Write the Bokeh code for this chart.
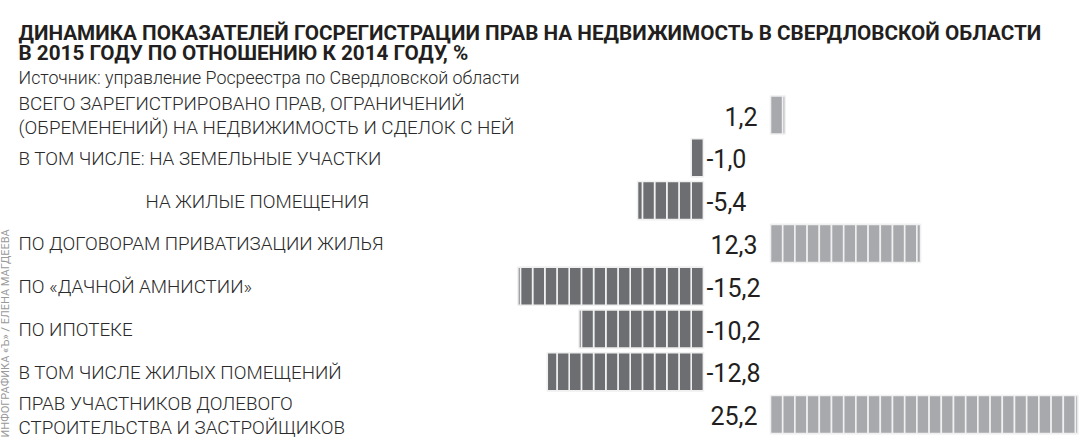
import math
from bokeh.plotting import figure
from bokeh.models import Range1d, Label, ColumnDataSource
from bokeh.core.properties import value
from bokeh.embed import file_html
from bokeh.resources import INLINE

# ---------------- data ----------------
title_lines = [
    "ДИНАМИКА ПОКАЗАТЕЛЕЙ ГОСРЕГИСТРАЦИИ ПРАВ НА НЕДВИЖИМОСТЬ В СВЕРДЛОВСКОЙ ОБЛАСТИ",
    "В 2015 ГОДУ ПО ОТНОШЕНИЮ К 2014 ГОДУ, %",
]
source_text = "Источник:  управление Росреестра по Свердловской области"
credit_text = "ИНФОГРАФИКА «Ъ» / ЕЛЕНА МАГДЕЕВА"

categories = [
    "ВСЕГО ЗАРЕГИСТРИРОВАНО ПРАВ, ОГРАНИЧЕНИЙ\n(ОБРЕМЕНЕНИЙ) НА НЕДВИЖИМОСТЬ И СДЕЛОК С НЕЙ",
    "В ТОМ ЧИСЛЕ: НА ЗЕМЕЛЬНЫЕ УЧАСТКИ",
    "НА ЖИЛЫЕ ПОМЕЩЕНИЯ",
    "ПО ДОГОВОРАМ ПРИВАТИЗАЦИИ ЖИЛЬЯ",
    "ПО «ДАЧНОЙ АМНИСТИИ»",
    "ПО ИПОТЕКЕ",
    "В ТОМ ЧИСЛЕ ЖИЛЫХ ПОМЕЩЕНИЙ",
    "ПРАВ УЧАСТНИКОВ ДОЛЕВОГО\nСТРОИТЕЛЬСТВА И ЗАСТРОЙЩИКОВ",
]
values = [1.2, -1.0, -5.4, 12.3, -15.2, -10.2, -12.8, 25.2]

# ---------------- style / layout ----------------
W, H = 1081, 441
PX = 12.2                 # pixels per percentage point
ZERO_PX = 770             # screen x of positive zero
NEG_ZERO = -5.5           # zero of negative bars (gap for labels)
ROW_PX = 42.8
ROW0_PX = 114.5
BAR_H = 0.89
POS_COLOR = "#a7a9ac"
NEG_COLOR = "#6d6e71"
TEXT_COLOR = "#231f20"
LABEL_COLOR = "#2a2a2a"
FONT = "Roboto"
LIGHT_FONT = "Roboto Light, Roboto"

x0 = -ZERO_PX / PX
x1 = (W - ZERO_PX) / PX
y_top = -ROW0_PX / ROW_PX
y_bot = (H - ROW0_PX) / ROW_PX

p = figure(width=W, height=H, output_backend="svg", toolbar_location=None,
           x_range=Range1d(x0, x1), y_range=Range1d(y_bot, y_top),
           min_border=0, outline_line_color=None, background_fill_color="white")
p.axis.visible = False
p.grid.visible = False

# ---------------- segmented bars ----------------
seg = dict(left=[], right=[], top=[], bottom=[], color=[])
for i, v in enumerate(values):
    z = 0.0 if v >= 0 else NEG_ZERO
    d = 1 if v >= 0 else -1
    a = abs(v)
    for k in range(math.ceil(a - 1e-9)):
        e0 = z + d * k
        e1 = z + d * min(k + 1, a)
        seg["left"].append(min(e0, e1))
        seg["right"].append(max(e0, e1))
        seg["top"].append(i - BAR_H / 2)
        seg["bottom"].append(i + BAR_H / 2)
        seg["color"].append(POS_COLOR if v >= 0 else NEG_COLOR)
p.quad(left="left", right="right", top="top", bottom="bottom", source=ColumnDataSource(seg),
       fill_color="color", line_color="#f0f0f0", line_width=1.6)

# ---------------- value labels ----------------
rows = list(range(len(values)))
lab = [("%.1f" % v).replace(".", ",") for v in values]
pos = [i for i, v in enumerate(values) if v >= 0]
neg = [i for i, v in enumerate(values) if v < 0]
p.text(x=[-13 / PX] * len(pos), y=[rows[i] for i in pos], text=[lab[i] for i in pos],
       text_font=value(FONT), text_font_size="25px", text_color=TEXT_COLOR,
       text_align="right", text_baseline="middle", y_offset=1)
p.text(x=[NEG_ZERO + 0.25] * len(neg), y=[rows[i] for i in neg], text=[lab[i] for i in neg],
       text_font=value(FONT), text_font_size="25px", text_color=TEXT_COLOR,
       text_align="left", text_baseline="middle", y_offset=1)

# ---------------- category labels ----------------
indent_px = [18, 18, 145, 18, 18, 18, 18, 18]
p.text(x=[x0 + ip / PX for ip in indent_px], y=rows, text=categories,
       text_font=value(LIGHT_FONT), text_font_size="18.8px", text_color=LABEL_COLOR,
       text_align="left", text_baseline="middle", text_line_height=1.1, y_offset=1)

# ---------------- titles ----------------
p.add_layout(Label(x=18, y=H - 32, x_units="screen", y_units="screen", text=title_lines[0],
                   text_font=FONT, text_font_size="20.7px", text_font_style="bold",
                   text_color=TEXT_COLOR, text_baseline="alphabetic"))
p.add_layout(Label(x=18, y=H - 52, x_units="screen", y_units="screen", text=title_lines[1],
                   text_font=FONT, text_font_size="20.7px", text_font_style="bold",
                   text_color=TEXT_COLOR, text_baseline="alphabetic"))
p.add_layout(Label(x=18, y=H - 77, x_units="screen", y_units="screen", text=source_text,
                   text_font=LIGHT_FONT, text_font_size="17.8px",
                   text_color=LABEL_COLOR, text_baseline="alphabetic"))
p.add_layout(Label(x=5, y=4, x_units="screen", y_units="screen", text=credit_text,
                   angle=math.pi / 2, text_font=FONT, text_font_size="11px",
                   text_color="#9a9a9a", text_baseline="middle", text_align="left"))

open("out.html", "w").write(file_html(p, INLINE))
